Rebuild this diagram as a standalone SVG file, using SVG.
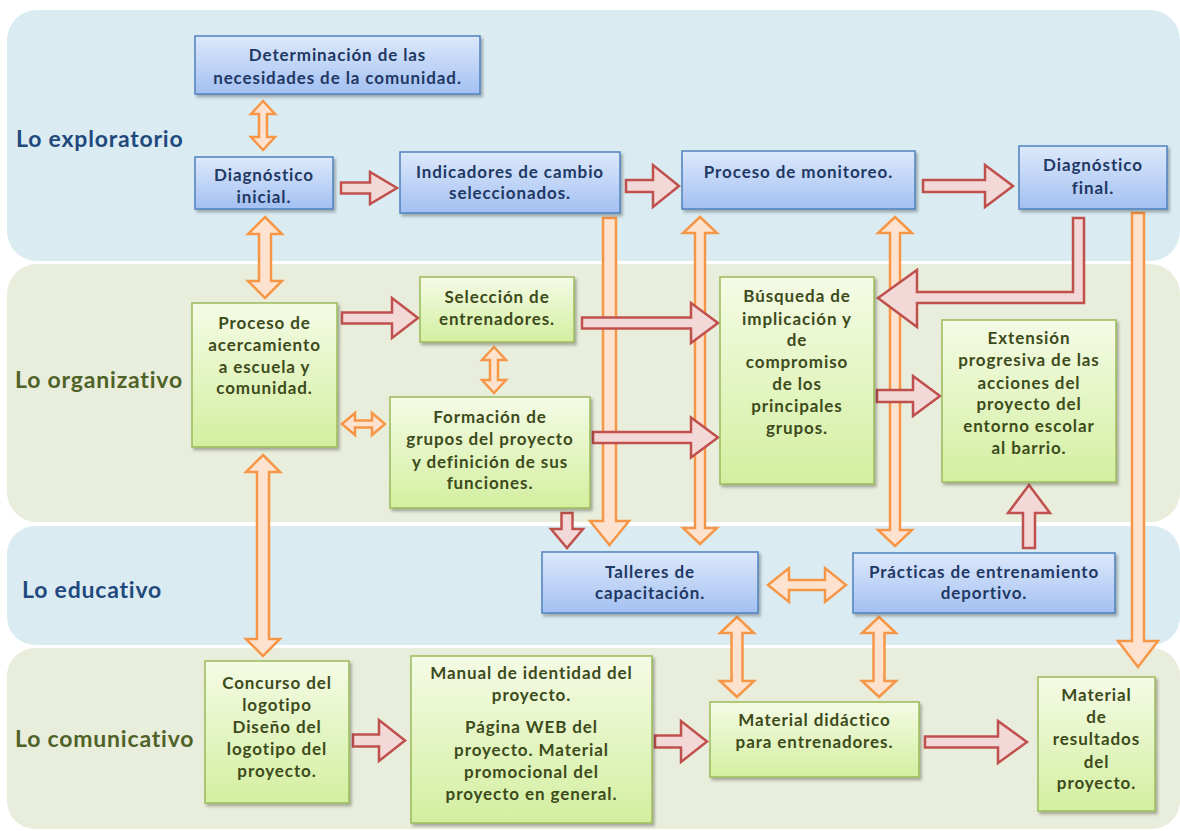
<svg xmlns="http://www.w3.org/2000/svg" width="1180" height="831" viewBox="0 0 1180 831">
<defs>
<linearGradient id="gBlue" x1="0" y1="0" x2="0" y2="1"><stop offset="0" stop-color="#dde9fb"/><stop offset="1" stop-color="#a3c0f2"/></linearGradient>
<linearGradient id="gGreen" x1="0" y1="0" x2="0" y2="1"><stop offset="0" stop-color="#f5fbe6"/><stop offset="1" stop-color="#d3efa0"/></linearGradient>
<filter id="sh" x="-10%" y="-10%" width="130%" height="130%"><feDropShadow dx="2" dy="2.5" stdDeviation="1.5" flood-color="#000" flood-opacity="0.3"/></filter>
<style>
.bandB{fill:#daecf2}
.bandG{fill:#e9eedc}
.nb{fill:url(#gBlue);stroke:#4f81bd;stroke-width:1.5;filter:url(#sh)}
.ng{fill:url(#gGreen);stroke:#9bbb59;stroke-width:1.5;filter:url(#sh)}
.tb{font-family:Lato,"Liberation Sans",sans-serif;font-weight:bold;font-size:17px;letter-spacing:0.9px;fill:#1f3864;text-anchor:middle}
.tg{font-family:Lato,"Liberation Sans",sans-serif;font-weight:bold;font-size:17px;letter-spacing:0.9px;fill:#3d4b1c;text-anchor:middle}
.lb{font-family:Lato,"Liberation Sans",sans-serif;font-weight:bold;font-size:23px;letter-spacing:0.8px;fill:#1f497d}
.lg{font-family:Lato,"Liberation Sans",sans-serif;font-weight:bold;font-size:23px;letter-spacing:0.8px;fill:#4f6228}
.ar{fill:#f2d8d7;stroke:#c0504d;stroke-width:2.5;stroke-linejoin:miter}
.ao{fill:#fde3cf;stroke:#f79646;stroke-width:2.5;stroke-linejoin:miter}
</style>
</defs>
<g id="bands">
<rect class="bandB" x="7" y="10" width="1173" height="251" rx="30"/>
<rect class="bandG" x="7" y="264" width="1173" height="258" rx="30"/>
<rect class="bandB" x="7" y="526" width="1173" height="119" rx="28"/>
<rect class="bandG" x="7" y="648" width="1173" height="181" rx="28"/>
</g>
<g id="band-labels">
<text class="lb" x="16" y="147">Lo exploratorio</text>
<text class="lg" x="15" y="388">Lo organizativo</text>
<text class="lb" x="22" y="598">Lo educativo</text>
<text class="lg" x="15" y="747">Lo comunicativo</text>
</g>
<g id="connectors">
<path class="ao" d="M263,101 L275,114 L267,114 L267,137 L275,137 L263,150 L251,137 L259,137 L259,114 L251,114 Z"/>
<path class="ao" d="M265,217 L282,234 L271,234 L271,281 L282,281 L265,298 L248,281 L259,281 L259,234 L248,234 Z"/>
<path class="ao" d="M263,455 L280,472 L269,472 L269,639 L280,639 L263,656 L246,639 L257,639 L257,472 L246,472 Z"/>
<path class="ao" d="M342,424 L355,413 L355,420.5 L372,420.5 L372,413 L385,424 L372,435 L372,427.5 L355,427.5 L355,435 Z"/>
<path class="ao" d="M494,347 L506,360 L498,360 L498,380 L506,380 L494,393 L482,380 L490,380 L490,360 L482,360 Z"/>
<path class="ao" d="M603,218 L616,218 L616,521 L629,521 L609.5,545 L590,521 L603,521 Z"/>
<path class="ao" d="M700,217 L717,233 L705,233 L705,528 L717,528 L700,544 L683,528 L695,528 L695,233 L683,233 Z"/>
<path class="ao" d="M895,217 L912,233 L900,233 L900,530 L912,530 L895,546 L878,530 L890,530 L890,233 L878,233 Z"/>
<path class="ao" d="M1132,213 L1144,213 L1144,641 L1158,641 L1138,667 L1118,641 L1132,641 Z"/>
<path class="ao" d="M768,585 L789,568 L789,580 L825,580 L825,568 L846,585 L825,602 L825,590 L789,590 L789,602 Z"/>
<path class="ao" d="M737,617 L754,633 L742.5,633 L742.5,681 L754,681 L737,697 L720,681 L731.5,681 L731.5,633 L720,633 Z"/>
<path class="ao" d="M879,617 L896,633 L884.5,633 L884.5,681 L896,681 L879,697 L862,681 L873.5,681 L873.5,633 L862,633 Z"/>
<path class="ar" d="M341,182.5 L370,182.5 L370,172 L397,188 L370,204 L370,193.5 L341,193.5 Z"/>
<path class="ar" d="M626,180 L653,180 L653,165 L679,186 L653,207 L653,192 L626,192 Z"/>
<path class="ar" d="M923,180 L985,180 L985,165 L1013,186 L985,207 L985,192 L923,192 Z"/>
<path class="ar" d="M342,312.5 L392,312.5 L392,298 L418,318 L392,338 L392,323.5 L342,323.5 Z"/>
<path class="ar" d="M582,317.5 L691,317.5 L691,303 L718,323 L691,343 L691,328.5 L582,328.5 Z"/>
<path class="ar" d="M593,432 L691,432 L691,417.5 L718,437.5 L691,457.5 L691,443 L593,443 Z"/>
<path class="ar" d="M877,390 L913,390 L913,376 L940,396 L913,416 L913,402 L877,402 Z"/>
<path class="ar" d="M1073,218 L1084,218 L1084,303 L917,303 L917,327 L878,298 L917,270 L917,292 L1073,292 Z"/>
<path class="ar" d="M1023,548 L1023,513 L1008,513 L1029,485 L1050,513 L1035,513 L1035,548 Z"/>
<path class="ar" d="M561.5,513 L572.5,513 L572.5,529 L583,529 L567,548 L551,529 L561.5,529 Z"/>
<path class="ar" d="M353,734.5 L379,734.5 L379,720 L405,740.5 L379,761 L379,746.5 L353,746.5 Z"/>
<path class="ar" d="M655,735.5 L681,735.5 L681,721 L707,741.5 L681,762 L681,747.5 L655,747.5 Z"/>
<path class="ar" d="M925,736.5 L998,736.5 L998,721 L1027,742 L998,763 L998,747.5 L925,747.5 Z"/>
</g>
<g id="n-determinacion"><rect class="nb" x="195" y="36" width="285" height="58"/><text class="tb" x="337.5" y="61">Determinación de las</text><text class="tb" x="337.5" y="84">necesidades de la comunidad.</text></g>
<g id="n-diag-inicial"><rect class="nb" x="195" y="157" width="138" height="52"/><text class="tb" x="264" y="181">Diagnóstico</text><text class="tb" x="264" y="203">inicial.</text></g>
<g id="n-indicadores"><rect class="nb" x="400" y="152" width="220" height="61"/><text class="tb" x="510" y="178">Indicadores de cambio</text><text class="tb" x="510" y="199">seleccionados.</text></g>
<g id="n-monitoreo"><rect class="nb" x="682" y="151" width="233" height="58"/><text class="tb" x="798.5" y="178">Proceso de monitoreo.</text></g>
<g id="n-diag-final"><rect class="nb" x="1019" y="146" width="148" height="63"/><text class="tb" x="1093" y="171">Diagnóstico</text><text class="tb" x="1093" y="194">final.</text></g>
<g id="n-acercamiento"><rect class="ng" x="192" y="303" width="145" height="144"/><text class="tg" x="264.5" y="329">Proceso de</text><text class="tg" x="264.5" y="351">acercamiento</text><text class="tg" x="264.5" y="373">a escuela y</text><text class="tg" x="264.5" y="394">comunidad.</text></g>
<g id="n-seleccion"><rect class="ng" x="420" y="277" width="154" height="65"/><text class="tg" x="497" y="303">Selección de</text><text class="tg" x="497" y="325">entrenadores.</text></g>
<g id="n-formacion"><rect class="ng" x="390" y="397" width="200" height="111"/><text class="tg" x="490" y="423">Formación de</text><text class="tg" x="490" y="445">grupos del proyecto</text><text class="tg" x="490" y="468">y definición de sus</text><text class="tg" x="490" y="489">funciones.</text></g>
<g id="n-busqueda"><rect class="ng" x="720" y="277" width="154" height="207"/><text class="tg" x="797" y="302">Búsqueda de</text><text class="tg" x="797" y="325">implicación y</text><text class="tg" x="797" y="346">de</text><text class="tg" x="797" y="368">compromiso</text><text class="tg" x="797" y="390">de los</text><text class="tg" x="797" y="412">principales</text><text class="tg" x="797" y="434">grupos.</text></g>
<g id="n-extension"><rect class="ng" x="942" y="320" width="174" height="162"/><text class="tg" x="1029" y="344">Extensión</text><text class="tg" x="1029" y="366">progresiva de las</text><text class="tg" x="1029" y="389">acciones del</text><text class="tg" x="1029" y="410">proyecto del</text><text class="tg" x="1029" y="432">entorno escolar</text><text class="tg" x="1029" y="454">al barrio.</text></g>
<g id="n-talleres"><rect class="nb" x="542" y="552" width="216" height="61"/><text class="tb" x="650" y="578">Talleres de</text><text class="tb" x="650" y="599">capacitación.</text></g>
<g id="n-practicas"><rect class="nb" x="853" y="553" width="262" height="60"/><text class="tb" x="984" y="578">Prácticas de entrenamiento</text><text class="tb" x="984" y="599">deportivo.</text></g>
<g id="n-concurso"><rect class="ng" x="205" y="661" width="144" height="142"/><text class="tg" x="277" y="689">Concurso del</text><text class="tg" x="277" y="711">logotipo</text><text class="tg" x="277" y="733">Diseño del</text><text class="tg" x="277" y="755">logotipo del</text><text class="tg" x="277" y="777">proyecto.</text></g>
<g id="n-manual"><rect class="ng" x="411" y="656" width="241" height="167"/><text class="tg" x="531.5" y="679">Manual de identidad del</text><text class="tg" x="531.5" y="701">proyecto.</text><text class="tg" x="531.5" y="733">Página WEB del</text><text class="tg" x="531.5" y="756">proyecto. Material</text><text class="tg" x="531.5" y="778">promocional del</text><text class="tg" x="531.5" y="800">proyecto en general.</text></g>
<g id="n-didactico"><rect class="ng" x="710" y="702" width="209" height="75"/><text class="tg" x="814.5" y="726">Material didáctico</text><text class="tg" x="814.5" y="748">para entrenadores.</text></g>
<g id="n-resultados"><rect class="ng" x="1038" y="677" width="117" height="134"/><text class="tg" x="1096.5" y="701">Material</text><text class="tg" x="1096.5" y="723">de</text><text class="tg" x="1096.5" y="745">resultados</text><text class="tg" x="1096.5" y="768">del</text><text class="tg" x="1096.5" y="789">proyecto.</text></g>
</svg>
